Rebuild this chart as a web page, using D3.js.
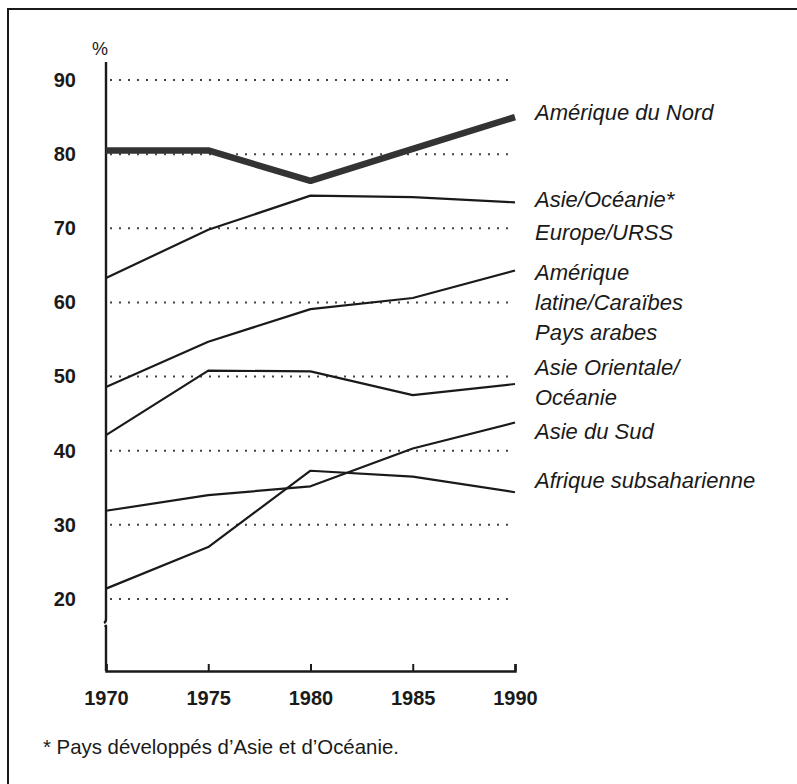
<!DOCTYPE html>
<html>
<head>
<meta charset="utf-8">
<script src="https://cdn.jsdelivr.net/npm/d3@7"></script>
<style>
    body { margin: 0; background: #fff; }
    svg { display: block; font-family: "Liberation Sans", Arial, Helvetica, sans-serif; }
</style>
</head>
<body>
<div id="chart"></div>
<script>
//Datos (lecture du graphique)
const years = [1970, 1975, 1980, 1985, 1990];
const amNord = [80.5, 80.5, 76.4, 80.7, 85.0];
const asieOceanie = [63.3, 69.8, 74.4, 74.2, 73.5];
const amLatine = [48.6, 54.7, 59.1, 60.6, 64.3];
const asieOrientale = [42.1, 50.8, 50.7, 47.5, 49.0];
const asieSud = [31.9, 34.0, 35.2, 40.3, 43.8];
const afrique = [21.4, 27.0, 37.3, 36.5, 34.4];
const yTicks = [20, 30, 40, 50, 60, 70, 80, 90];
const seriesLabels = [
    ['Amérique du Nord'],
    ['Asie/Océanie*', 'Europe/URSS'],
    ['Amérique', 'latine/Caraïbes', 'Pays arabes'],
    ['Asie Orientale/', 'Océanie'],
    ['Asie du Sud'],
    ['Afrique subsaharienne']
];
const footnote = '* Pays développés d\u2019Asie et d\u2019Océanie.';

const width = 797, height = 784;
const COLOR_INK = '#1a1a1a';

let svg = d3.select('#chart')
    .append('svg')
        .attr('width', width)
        .attr('height', height);

svg.append('rect')
    .attr('width', width).attr('height', height)
    .attr('fill', '#fff');

//Cadre
svg.append('rect')
    .attr('x', 8).attr('y', 9)
    .attr('width', 820).attr('height', 820)
    .attr('fill', 'none')
    .attr('stroke', COLOR_INK)
    .attr('stroke-width', 2);

let x = d3.scaleLinear()
    .domain([1970, 1990])
    .range([106, 515]);

let y = d3.scaleLinear()
    .domain([20, 90])
    .range([599, 80]);

//Lignes pointillées
svg.append('g')
    .selectAll('line')
    .data(yTicks)
    .enter()
    .append('line')
    .attr('x1', x(1970) + 4)
    .attr('x2', x(1990))
    .attr('y1', d => y(d))
    .attr('y2', d => y(d))
    .attr('stroke', '#444')
    .attr('stroke-width', 2)
    .attr('stroke-dasharray', '2,7');

//Axe X
let xAxis = svg.append('g')
    .attr('transform', 'translate(0,' + 671 + ')')
    .call(d3.axisBottom(x)
        .tickValues(years)
        .tickFormat(d3.format('d'))
        .tickSize(-7)
        .tickSizeOuter(-7));

xAxis.select('.domain')
    .attr('stroke', COLOR_INK)
    .attr('stroke-width', 2.5);
xAxis.selectAll('.tick line')
    .attr('stroke', COLOR_INK)
    .attr('stroke-width', 2);
xAxis.selectAll('.tick text')
    .attr('y', 34)
    .attr('dy', 0)
    .attr('fill', COLOR_INK)
    .attr('font-size', 20)
    .attr('font-weight', 'bold')
    .attr('font-family', '"Liberation Sans", Arial, sans-serif');

//Axe Y (sans trait de domaine, cassure dessinée à part)
let yAxis = svg.append('g')
    .attr('transform', 'translate(' + x(1970) + ',0)')
    .call(d3.axisLeft(y)
        .tickValues(yTicks)
        .tickSize(0)
        .tickPadding(30));

yAxis.select('.domain').remove();
yAxis.selectAll('.tick text')
    .attr('fill', COLOR_INK)
    .attr('font-size', 20)
    .attr('font-weight', 'bold')
    .attr('font-family', '"Liberation Sans", Arial, sans-serif');

const axisX = x(1970);
svg.append('path')
    .attr('d', 'M' + axisX + ',62 V619 q0,3 -2,4')
    .attr('fill', 'none')
    .attr('stroke', COLOR_INK)
    .attr('stroke-width', 2.4);
svg.append('path')
    .attr('d', 'M' + (axisX - 1) + ',627 q1,-2 1,-1 V671')
    .attr('fill', 'none')
    .attr('stroke', COLOR_INK)
    .attr('stroke-width', 2.4);

svg.append('text')
    .attr('x', axisX - 6)
    .attr('y', 55)
    .attr('text-anchor', 'middle')
    .attr('font-size', 18)
    .attr('fill', COLOR_INK)
    .text('%');

//Séries
const series = [
    { values: amNord, thick: true },
    { values: asieOceanie },
    { values: amLatine },
    { values: asieOrientale },
    { values: asieSud },
    { values: afrique }
];

let line = d3.line()
    .x((d, i) => x(years[i]))
    .y(d => y(d));

svg.append('g')
    .selectAll('path')
    .data(series)
    .enter()
    .append('path')
    .attr('d', d => line(d.values))
    .attr('fill', 'none')
    .attr('stroke', d => d.thick ? '#333' : COLOR_INK)
    .attr('stroke-width', d => d.thick ? 6.5 : 2.2)
    .attr('stroke-linejoin', 'round');

//Étiquettes (ligne de base de la première ligne de chaque groupe)
const labelBaseline = [120, 207, 280, 375, 439, 488];
const labelLineHeight = [31, 33, 30, 30, 31, 31];

seriesLabels.forEach(function(lines, i) {
    let t = svg.append('text')
        .attr('x', 535)
        .attr('y', labelBaseline[i])
        .attr('font-size', 22)
        .attr('font-style', 'italic')
        .attr('fill', COLOR_INK);
    lines.forEach(function(l, j) {
        t.append('tspan')
            .attr('x', 535)
            .attr('dy', j === 0 ? 0 : labelLineHeight[i])
            .text(l);
    });
});

//Note
svg.append('text')
    .attr('x', 43)
    .attr('y', 754)
    .attr('font-size', 20.4)
    .attr('fill', COLOR_INK)
    .text(footnote);
</script>
</body>
</html>
